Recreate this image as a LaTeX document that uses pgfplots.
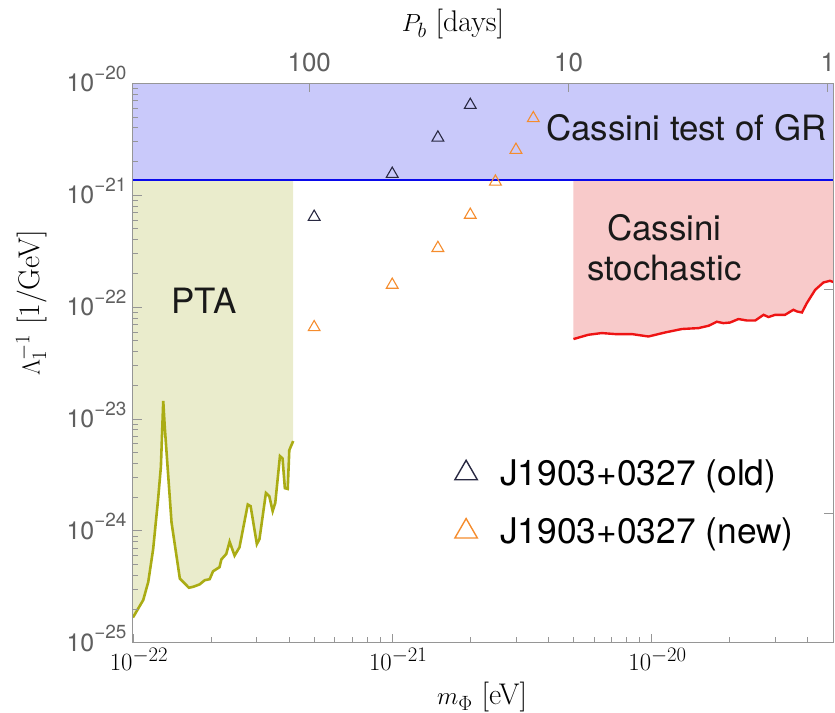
\documentclass[border=0pt]{standalone}
\usepackage{fontspec}
\usepackage{pgfplots}
\usepackage{pgfplotstable}
\pgfplotsset{compat=1.18}
\newfontfamily\hv{TeX Gyre Heros}
\definecolor{axgray}{RGB}{150,150,150}
\definecolor{tkgray}{RGB}{95,95,95}
\definecolor{lav}{RGB}{201,201,250}
\definecolor{cblue}{RGB}{10,10,235}
\definecolor{olfill}{RGB}{234,236,204}
\definecolor{olline}{RGB}{170,172,20}
\definecolor{pkfill}{RGB}{248,202,202}
\definecolor{rline}{RGB}{238,20,20}
\definecolor{orng}{RGB}{245,140,45}
\definecolor{oldc}{RGB}{40,40,65}
\newcommand{\ylab}[1]{{\hv\fontsize{25}{30}\selectfont 10\raisebox{12.5bp}{\fontsize{19}{22}\selectfont −#1}}}

\pgfplotstableread{
x y
1.000e-22 1.68e-25
1.096e-22 2.41e-25
1.146e-22 3.50e-25
1.197e-22 6.89e-25
1.250e-22 1.90e-24
1.282e-22 3.75e-24
1.309e-22 1.45e-23
1.327e-22 8.43e-24
1.409e-22 1.19e-24
1.517e-22 3.75e-25
1.644e-22 3.10e-25
1.706e-22 3.16e-25
1.807e-22 3.32e-25
1.892e-22 3.62e-25
1.977e-22 3.70e-25
2.037e-22 4.35e-25
2.158e-22 4.74e-25
2.193e-22 5.55e-25
2.291e-22 6.22e-25
2.360e-22 8.00e-25
2.466e-22 6.01e-25
2.576e-22 7.13e-25
2.773e-22 1.72e-24
2.844e-22 1.66e-24
3.006e-22 7.62e-25
3.076e-22 8.43e-25
3.258e-22 2.18e-24
3.357e-22 2.04e-24
3.459e-22 1.50e-24
3.540e-22 1.78e-24
3.690e-22 4.66e-24
3.776e-22 4.44e-24
3.855e-22 2.41e-24
3.954e-22 2.37e-24
4.009e-22 5.26e-24
4.150e-22 6.35e-24
}\pta

\pgfplotstableread{
x y
5.00e-21 5.18e-23
5.71e-21 5.66e-23
6.43e-21 5.86e-23
7.24e-21 5.74e-23
8.39e-21 5.74e-23
9.73e-21 5.46e-23
1.127e-20 5.93e-23
1.309e-20 6.37e-23
1.517e-20 6.49e-23
1.660e-20 6.81e-23
1.786e-20 7.40e-23
1.892e-20 7.19e-23
2.009e-20 7.28e-23
2.163e-20 7.82e-23
2.333e-20 7.59e-23
2.512e-20 7.59e-23
2.704e-20 8.53e-23
2.825e-20 8.15e-23
3.000e-20 8.53e-23
3.273e-20 8.53e-23
3.524e-20 9.46e-23
3.639e-20 9.14e-23
3.802e-20 8.95e-23
3.972e-20 1.086e-22
4.276e-20 1.426e-22
4.603e-20 1.660e-22
4.875e-20 1.718e-22
5.08e-20 1.660e-22
}\cas

\pgfplotstableread{
x y
5.0e-22 6.4e-22
1.0e-21 1.55e-21
1.5e-21 3.27e-21
2.0e-21 6.4e-21
}\old

\pgfplotstableread{
x y
5.0e-22 6.6e-23
1.0e-21 1.58e-22
1.5e-21 3.37e-22
2.0e-21 6.67e-22
2.5e-21 1.32e-21
3.0e-21 2.54e-21
3.5e-21 4.87e-21
}\new

\begin{document}
\begin{tikzpicture}
\begin{axis}[name=main,
  scale only axis, width=700.3bp, height=559.4bp,
  xmode=log, ymode=log, xmin=1e-22, xmax=5.02e-20, ymin=1e-25, ymax=1e-20,
  axis on top,
  axis line style={axgray, line width=0.9pt},
  every tick/.style={axgray, line width=0.8pt},
  major tick length=9bp, minor tick length=5.5bp,
  xtick pos=lower, ytick pos=lower,
  xtick={1e-22,1e-21,1e-20},
  minor xtick={2e-22,3e-22,4e-22,5e-22,6e-22,7e-22,8e-22,9e-22,2e-21,3e-21,4e-21,5e-21,6e-21,7e-21,8e-21,9e-21,2e-20,3e-20,4e-20},
  ytick={1e-25,1e-24,1e-23,1e-22,1e-21,1e-20},
  yticklabels={\ylab{25},\ylab{24},\ylab{23},\ylab{22},\ylab{21},\ylab{20}},
  minor ytick={2e-25,3e-25,4e-25,5e-25,6e-25,7e-25,8e-25,9e-25,2e-24,3e-24,4e-24,5e-24,6e-24,7e-24,8e-24,9e-24,2e-23,3e-23,4e-23,5e-23,6e-23,7e-23,8e-23,9e-23,2e-22,3e-22,4e-22,5e-22,6e-22,7e-22,8e-22,9e-22,2e-21,3e-21,4e-21,5e-21,6e-21,7e-21,8e-21,9e-21},
  xticklabel style={font=\fontsize{30}{36}\selectfont, inner sep=0pt, yshift=-5bp, xshift=6bp},
  yticklabel style={anchor=base east, inner sep=0pt, xshift=-6.3bp, yshift=-8.6bp, text=tkgray},
  xlabel={$m_\Phi$ [eV]}, ylabel={$\Lambda_1^{-1}$ [1/GeV]},
  label style={font=\fontsize{30}{36}\selectfont},
  xlabel style={at={(rel axis cs:0.4985,-0.0971)}, anchor=center},
  ylabel style={at={(rel axis cs:-0.1447,0.607)}, anchor=center},
  legend style={draw=none, fill=none, at={(rel axis cs:0.4541,0.3348)}, anchor=north west,
    font=\hv\fontsize{35.5}{42}\selectfont, row sep=27bp,
    /tikz/every odd column/.append style={column sep=20bp}},
  legend cell align=left,
  legend image code/.code={\draw[#1, mark size=13bp, line width=1.4pt] plot coordinates {(12bp,0bp)}; \path[draw=none] (0bp,0bp) -- (24bp,0bp);},
]
% Cassini test of GR
\addplot[fill=lav, draw=none, forget plot] coordinates {(1e-22,1.37e-21) (5.02e-20,1.37e-21) (5.02e-20,1e-20) (1e-22,1e-20)};
% PTA
\addplot[fill=olfill, draw=none, forget plot] table {\pta} -- (axis cs:4.15e-22,1.37e-21) -- (axis cs:1e-22,1.37e-21) -- cycle;
% Cassini stochastic
\addplot[fill=pkfill, draw=none, forget plot] table {\cas} -- (axis cs:5.08e-20,1.37e-21) -- (axis cs:5.0e-21,1.37e-21) -- cycle;
\addplot[cblue, line width=2.8pt, forget plot] coordinates {(1e-22,1.37e-21) (5.02e-20,1.37e-21)};
\addplot[olline, line width=2.6pt, forget plot] table {\pta};
\addplot[rline, line width=2.4pt, forget plot] table {\cas};
\addplot[only marks, mark=triangle, mark size=6.8bp, oldc, line width=1.1pt] table {\old};
\addlegendentry{J1903+0327 (old)}
\addplot[only marks, mark=triangle, mark size=6.8bp, orng, line width=1.1pt] table {\new};
\addlegendentry{J1903+0327 (new)}
\node[font=\hv\fontsize{35}{40}\selectfont, text=black!90] at (axis cs:1.36e-20,4.02e-21) {Cassini test of GR};
\node[font=\hv\fontsize{35}{41}\selectfont, text=black!90, align=center] at (axis cs:1.12e-20,3.39e-22) {Cassini\\stochastic};
\node[font=\hv\fontsize{35}{40}\selectfont, text=black!90] at (axis cs:1.88e-22,1.14e-22) {PTA};
\end{axis}
\begin{axis}[
  at={(main.south west)}, anchor=south west,
  scale only axis, width=700.3bp, height=559.4bp,
  xmode=log, ymode=log, xmin=1e-22, xmax=5.02e-20, ymin=1e-25, ymax=1e-20,
  axis line style={axgray, line width=0.9pt},
  every tick/.style={axgray, line width=0.8pt},
  major tick length=9bp,
  xtick pos=upper, xticklabel pos=upper, ytick pos=upper, yticklabel pos=upper,
  xtick={4.787e-22,4.787e-21,4.787e-20}, xticklabels={100,10,1},
  ytick={1.43e-22,1.44e-24}, yticklabels={},
  xminorticks=false, yminorticks=false,
  xticklabel style={font=\hv\fontsize{26}{30}\selectfont, text=tkgray, anchor=base, inner sep=0pt, yshift=12.3bp},
  xlabel={$P_b$ [days]},
  xlabel style={font=\fontsize{30}{36}\selectfont, at={(rel axis cs:0.457,1.106)}, anchor=center},
]
\end{axis}
\pgfresetboundingbox
\path[use as bounding box] ([xshift=-133bp,yshift=-70.3bp]main.south west) rectangle ([xshift=1.7bp,yshift=83.3bp]main.north east);
\end{tikzpicture}
\end{document}
